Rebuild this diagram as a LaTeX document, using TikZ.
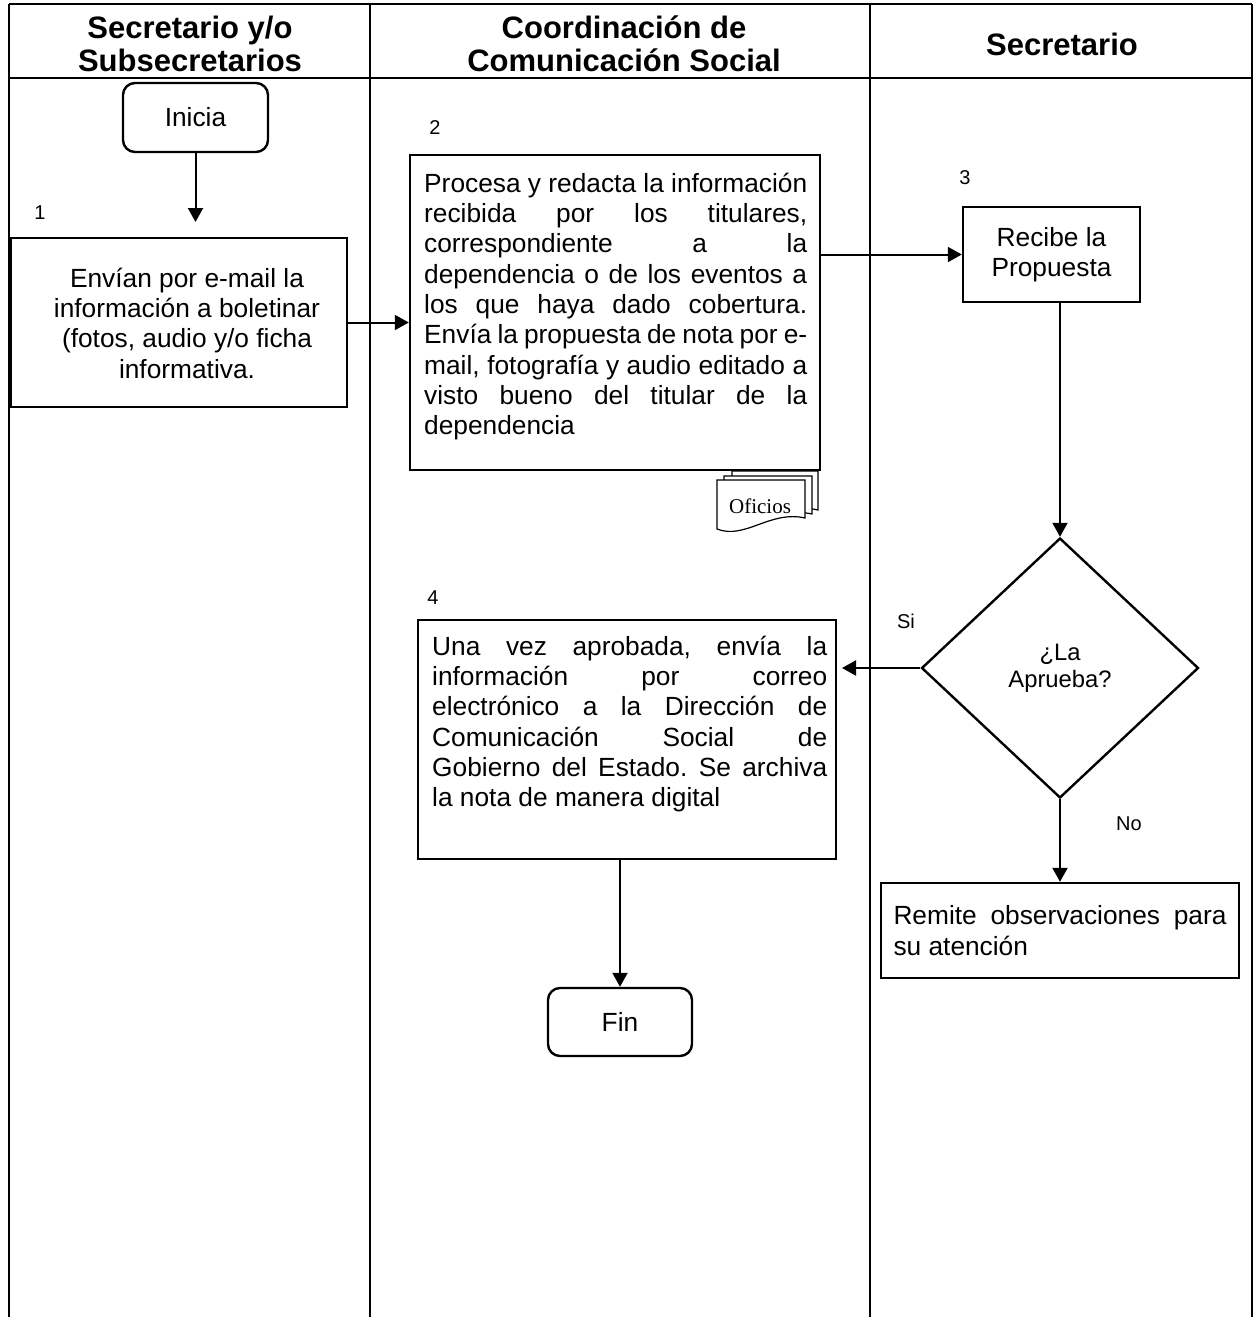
\documentclass[tikz,border=0pt]{standalone}
\usepackage{fontspec}
\setmainfont{Liberation Sans}
\newfontfamily\docserif{Liberation Serif}
\usetikzlibrary{shapes.geometric,arrows.meta}
\frenchspacing

% one justified line of a fixed width
\newcommand{\jline}[2]{\makebox[#1][s]{#2}}

\begin{document}
\begin{tikzpicture}[x=1pt,y=-1pt,
  lane/.style={line width=1.2pt},
  box/.style={draw, line width=2.4pt, inner sep=0pt},
  term/.style={box, rounded corners=12pt},
  txt/.style={inner sep=0pt, font=\fontsize{26.3}{30.3}\selectfont},
  head/.style={inner sep=0pt, align=center, font=\fontsize{31}{33}\selectfont\bfseries},
  lbl/.style={inner sep=0pt, font=\fontsize{20}{24}\selectfont},
  arr/.style={line width=2pt, -{Triangle[length=14pt,width=15pt]}},
  page/.style={draw, fill=white, line width=1.2pt}
]
\useasboundingbox (0,0) rectangle (1254,1317);

% swimlane frame
\draw[lane] (9,4) -- (1252,4);
\draw[lane] (9,78) -- (1252,78);
\foreach \lx in {9,370,870,1252} \draw[lane] (\lx,4) -- (\lx,1317);

% lane headings
\node[head] (h1) at (190,44) {Secretario y/o\\Subsecretarios};
\node[head] (h2) at (624,44) {Coordinación de\\Comunicación Social};
\node[head] (h3) at (1062,44) {Secretario};

% start
\node[term, minimum width=145pt, minimum height=69pt, txt] (ini) at (195.5,117.5) {Inicia};
\coordinate (c1) at (195.5,222);
\draw[arr] (ini.south) -- (c1);

% step 1
\node[lbl] (n1) at (40,213) {1};
\node[box, minimum width=336pt, minimum height=169pt] (b1) at (179,322.5) {};
\node[txt, align=center] (t1) at (187,323) {Envían por e-mail la\\información a boletinar\\(fotos, audio y/o ficha\\informativa.};

% step 2
\node[lbl] (n2) at (435,128) {2};
\node[box, minimum width=410pt, minimum height=315pt] (b2) at (615,312.5) {};
\node[txt, align=left, anchor=north west] (t2) at (424,170) {%
\rule{0pt}{22pt}\jline{383pt}{Procesa y redacta la información}\\
\jline{383pt}{recibida por los titulares,}\\
\jline{383pt}{correspondiente a la}\\
\jline{383pt}{dependencia o de los eventos a}\\
\jline{383pt}{los que haya dado cobertura.}\\
\jline{383pt}{Envía la propuesta de nota por e-}\\
\jline{383pt}{mail, fotografía y audio editado a}\\
\jline{383pt}{visto bueno del titular de la}\\
dependencia};
\draw[arr] (b1.east) -- (b1.east -| b2.west);

% stacked documents
\path[page] (732,471) -- (818,471) -- (818,510) .. controls (785,502) and (760,532) .. (732,520) -- cycle;
\path[page] (724,476) -- (812,476) -- (812,514) .. controls (777,506) and (752,536) .. (724,525) -- cycle;
\path[page] (717,480) -- (805,480) -- (805,518) .. controls (770,510) and (745,540) .. (717,529) -- cycle;
\node[inner sep=0pt, font=\docserif\fontsize{21}{24}\selectfont] (of) at (760,506) {Oficios};

% step 3
\node[lbl] (n3) at (965,178) {3};
\node[box, txt, align=center, minimum width=177pt, minimum height=95pt] (b3) at (1051.5,254.5) {Recibe la\\Propuesta};
\draw[arr] (b2.east |- b3.west) -- (b3.west);

% decision
\node[draw, line width=2.4pt, shape=diamond, inner sep=0pt, minimum width=277pt, minimum height=260pt,
      align=center, font=\fontsize{23.8}{27}\selectfont] (d) at (1060,668) {¿La\\Aprueba?};
\draw[arr] (b3.south -| d.north) -- (d.north);

% step 4
\node[lbl] (n4) at (433,598) {4};
\node[box, minimum width=418pt, minimum height=239pt] (b4) at (627,739.5) {};
\node[txt, align=left, anchor=north west] (t4) at (432,633) {%
\rule{0pt}{22pt}\jline{395pt}{Una vez aprobada, envía la}\\
\jline{395pt}{información por correo}\\
\jline{395pt}{electrónico a la Dirección de}\\
\jline{395pt}{Comunicación Social de}\\
\jline{395pt}{Gobierno del Estado. Se archiva}\\
la nota de manera digital};
\coordinate (c4) at (842,668);
\draw[arr] (d.west) -- (c4);
\node[lbl] (si) at (906,621) {Si};

% end
\node[term, minimum width=144pt, minimum height=68pt, txt] (fin) at (620,1022) {Fin};
\draw[arr] (b4.south -| fin.north) -- (fin.north);

% rejection
\node[box, minimum width=358pt, minimum height=95pt] (b5) at (1060,930.5) {};
\node[txt, align=left] (t5) at (b5.center) {\jline{333pt}{Remite observaciones para}\\su atención};
\draw[arr] (d.south) -- (b5.north);
\node[lbl] (no) at (1129,824) {No};
\end{tikzpicture}
\end{document}
